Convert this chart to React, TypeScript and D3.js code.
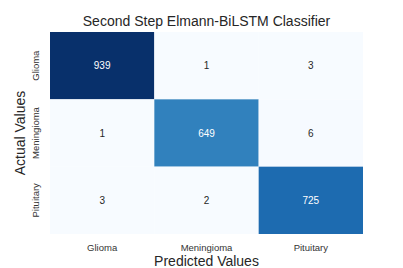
import { scaleBand, scaleSequential, interpolateBlues, hsl } from 'd3';
import React from 'react';

const labels = ['Glioma', 'Meningioma', 'Pituitary'];
const matrix = [
  [939, 1, 3],
  [1, 649, 6],
  [3, 2, 725],
];

const W = 403;
const H = 268;
const M = { left: 50, right: 40, top: 32, bottom: 34 };

export default function App() {
  const x = scaleBand().domain(labels).range([M.left, W - M.right]);
  const y = scaleBand().domain(labels).range([M.top, H - M.bottom]);
  const color = scaleSequential(interpolateBlues).domain([1, 939]);
  const font = '"Liberation Sans", Arial, sans-serif';

  const cells = matrix.flatMap((row, i) =>
    row.map((v, j) => ({ v, actual: labels[i], pred: labels[j] })),
  );

  return (
    <svg
      width={W}
      height={H}
      style={{ position: 'absolute', left: 0, top: 0, background: '#fff' }}
      fontFamily={font}
    >
      <text x={(M.left + W - M.right) / 2} y={26} textAnchor="middle" fontSize={14} fill="#262626">
        Second Step Elmann-BiLSTM Classifier
      </text>
      {cells.map(c => {
        const fill = color(c.v);
        const light = hsl(fill).l > 0.55;
        return (
          <g key={c.actual + c.pred}>
            <rect
              x={x(c.pred)}
              y={y(c.actual)}
              width={x.bandwidth()}
              height={y.bandwidth()}
              fill={fill}
            />
            <text
              x={(x(c.pred) ?? 0) + x.bandwidth() / 2}
              y={(y(c.actual) ?? 0) + y.bandwidth() / 2}
              dy="0.35em"
              textAnchor="middle"
              fontSize={10}
              fill={light ? '#262626' : '#ffffff'}
            >
              {c.v}
            </text>
          </g>
        );
      })}
      {labels.map(l => (
        <text
          key={'x' + l}
          x={(x(l) ?? 0) + x.bandwidth() / 2}
          y={H - M.bottom + 17}
          textAnchor="middle"
          fontSize={9.5}
          fill="#333"
        >
          {l}
        </text>
      ))}
      {labels.map(l => {
        const cy = (y(l) ?? 0) + y.bandwidth() / 2;
        return (
          <text
            key={'y' + l}
            transform={`translate(${M.left - 11},${cy}) rotate(-90)`}
            textAnchor="middle"
            fontSize={9.5}
            fill="#333"
          >
            {l}
          </text>
        );
      })}
      <text x={(M.left + W - M.right) / 2} y={H - 2} textAnchor="middle" fontSize={14} fill="#262626">
        Predicted Values
      </text>
      <text
        transform={`translate(${25},${(M.top + H - M.bottom) / 2}) rotate(-90)`}
        textAnchor="middle"
        fontSize={14}
        fill="#262626"
      >
        Actual Values
      </text>
    </svg>
  );
}
